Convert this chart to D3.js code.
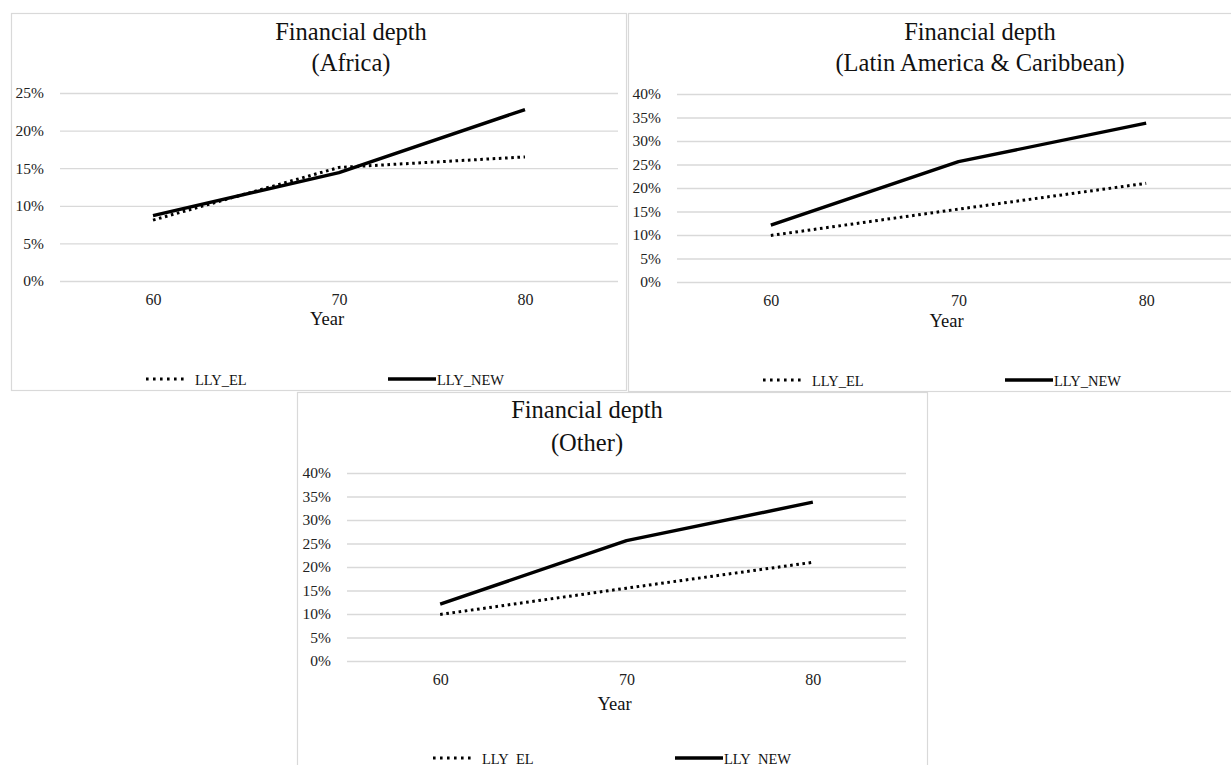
<!DOCTYPE html>
<html>
<head>
<meta charset="utf-8">
<script src="https://cdn.jsdelivr.net/npm/d3@7"></script>
<style>
  html, body { margin: 0; padding: 0; background: #ffffff; }
  svg { display: block; font-family: "Liberation Serif", "Times New Roman", serif; }
</style>
</head>
<body>
<svg id="chart" width="1231" height="765"></svg>
<script>
// Categories and series values
const years = ["60", "70", "80"];
const seriesNames = ["LLY_EL", "LLY_NEW"];

const africaEL  = [0.081, 0.151, 0.165];
const africaNEW = [0.087, 0.144, 0.228];

const latamEL   = [0.099, 0.155, 0.210];
const latamNEW  = [0.121, 0.256, 0.338];

const otherEL   = [0.099, 0.155, 0.210];
const otherNEW  = [0.121, 0.256, 0.338];

const africaTicks = [0, 0.05, 0.10, 0.15, 0.20, 0.25];
const wideTicks   = [0, 0.05, 0.10, 0.15, 0.20, 0.25, 0.30, 0.35, 0.40];

const titleLine1 = "Financial depth";
const regionTitles = ["(Africa)", "(Latin America & Caribbean)", "(Other)"];
const xTitle = "Year";

// Layout of the three chart panels
const panels = [
  { frame: [11, 13, 615, 377], plot: { left: 60, right: 618, top: 93, bottom: 281 },
    titleX: 351, titleY: [40, 71], yMax: 0.25, ticks: africaTicks,
    el: africaEL, nw: africaNEW, sub: regionTitles[0], yearY: 325, legendY: 379 },
  { frame: [628, 13, 620, 378], plot: { left: 677, right: 1240, top: 94, bottom: 282 },
    titleX: 980, titleY: [40, 71], yMax: 0.40, ticks: wideTicks,
    el: latamEL, nw: latamNEW, sub: regionTitles[1], yearY: 327, legendY: 380 },
  { frame: [297, 392, 630, 390], plot: { left: 347, right: 906, top: 473, bottom: 661 },
    titleX: 587, titleY: [418, 451], yMax: 0.40, ticks: wideTicks,
    el: otherEL, nw: otherNEW, sub: regionTitles[2], yearY: 710, legendY: 758 }
];

const svg = d3.select("#chart");
const gridColor = "#d9d9d9";
const pct = d3.format(".0%");

panels.forEach(p => {
  const g = svg.append("g");

  // panel frame
  g.append("rect")
    .attr("x", p.frame[0] + 0.5).attr("y", p.frame[1] + 0.5)
    .attr("width", p.frame[2]).attr("height", p.frame[3])
    .attr("fill", "#fff").attr("stroke", gridColor).attr("stroke-width", 1.2);

  const x = d3.scalePoint().domain(years).range([p.plot.left, p.plot.right]).padding(0.5);
  const y = d3.scaleLinear().domain([0, p.yMax]).range([p.plot.bottom, p.plot.top]);
  const w = p.plot.right - p.plot.left;

  // value axis with horizontal gridlines
  const yAxis = g.append("g")
    .attr("transform", `translate(${p.plot.left},0)`)
    .call(d3.axisLeft(y).tickValues(p.ticks).tickFormat(pct).tickSize(-w).tickPadding(16));
  yAxis.select(".domain").remove();
  yAxis.selectAll(".tick line").attr("stroke", gridColor).attr("stroke-width", 1.3);
  yAxis.selectAll(".tick text")
    .attr("fill", "#222").style("font-size", "15.5px")
    .style("font-family", "'Liberation Serif', serif");

  // category axis
  const xAxis = g.append("g")
    .attr("transform", `translate(0,${p.plot.bottom})`)
    .call(d3.axisBottom(x).tickSize(0).tickPadding(13));
  xAxis.select(".domain").remove();
  xAxis.selectAll(".tick text")
    .attr("fill", "#222").style("font-size", "16px")
    .style("font-family", "'Liberation Serif', serif");

  // titles
  g.append("text").attr("x", p.titleX).attr("y", p.titleY[0])
    .attr("text-anchor", "middle").attr("fill", "#111")
    .style("font-size", "24.5px").text(titleLine1);
  g.append("text").attr("x", p.titleX).attr("y", p.titleY[1])
    .attr("text-anchor", "middle").attr("fill", "#111")
    .style("font-size", "24.5px").text(p.sub);

  g.append("text").attr("x", (p.plot.left + p.plot.right) / 2 - 12).attr("y", p.yearY)
    .attr("text-anchor", "middle").attr("fill", "#111")
    .style("font-size", "18.5px").text(xTitle);

  // series lines
  const line = d3.line().x((d, i) => x(years[i])).y(d => y(d));

  g.append("path").datum(p.el)
    .attr("d", line).attr("fill", "none").attr("stroke", "#000")
    .attr("stroke-width", 3).attr("stroke-dasharray", "2.6 3.6");

  g.append("path").datum(p.nw)
    .attr("d", line).attr("fill", "none").attr("stroke", "#000")
    .attr("stroke-width", 3.4).attr("stroke-linejoin", "round");

  // legend
  const L = p.plot.left;
  const leg = g.append("g");
  leg.append("line")
    .attr("x1", L + 86).attr("x2", L + 128).attr("y1", p.legendY).attr("y2", p.legendY)
    .attr("stroke", "#000").attr("stroke-width", 3).attr("stroke-dasharray", "2.6 4.4");
  leg.append("text").attr("x", L + 135).attr("y", p.legendY + 5.5)
    .attr("fill", "#111").style("font-size", "14.5px").text(seriesNames[0]);
  leg.append("line")
    .attr("x1", L + 328).attr("x2", L + 376).attr("y1", p.legendY).attr("y2", p.legendY)
    .attr("stroke", "#000").attr("stroke-width", 3.4);
  leg.append("text").attr("x", L + 377).attr("y", p.legendY + 5.5)
    .attr("fill", "#111").style("font-size", "14.5px").text(seriesNames[1]);
});
</script>
</body>
</html>
